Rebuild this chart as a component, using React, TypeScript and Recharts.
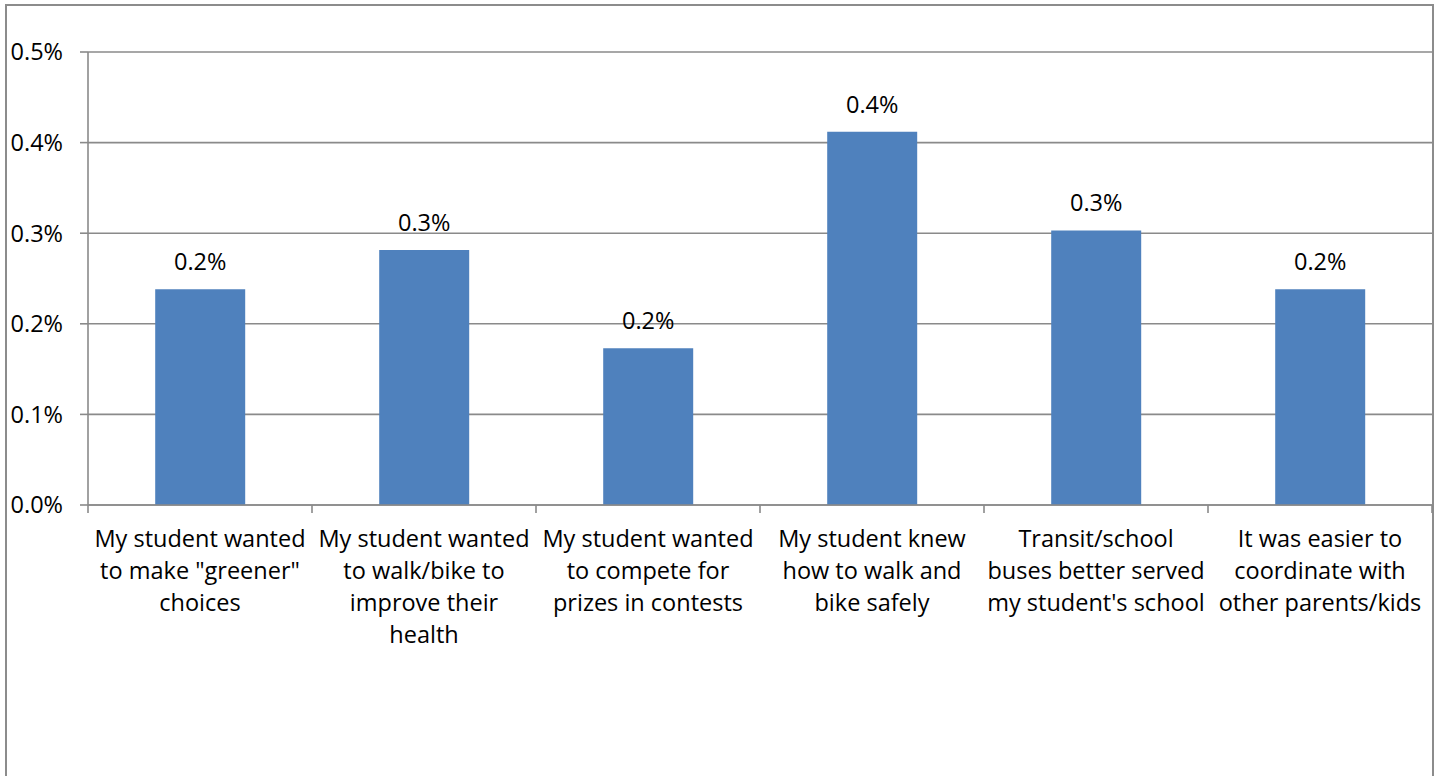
import React from "react";
import { BarChart, Bar, XAxis, YAxis, CartesianGrid, LabelList } from "recharts";

const categories: string[] = [
  "My student wanted\nto make \"greener\"\nchoices",
  "My student wanted\nto walk/bike to\nimprove their\nhealth",
  "My student wanted\nto compete for\nprizes in contests",
  "My student knew\nhow to walk and\nbike safely",
  "Transit/school\nbuses better served\nmy student's school",
  "It was easier to\ncoordinate with\nother parents/kids",
];

const values: number[] = [0.238, 0.2815, 0.173, 0.412, 0.303, 0.238];

const yTicks: number[] = [0, 0.1, 0.2, 0.3, 0.4, 0.5];

const data = categories.map((c, i) => ({ name: c, value: values[i] }));

const W = 1440;
const H = 776;
const MARGIN = { top: 52, right: 8, left: 0, bottom: 121 };
const Y_AXIS_W = 88;
const X_AXIS_H = 150;
const BAND = (W - MARGIN.left - MARGIN.right - Y_AXIS_W) / categories.length;

const FONT = "'Open Sans', sans-serif";
const FS = 23.5;
const LINE_COLOR = "#8a8a8a";
const TEXT_COLOR = "#000000";

const fmt = (v: number) => `${v.toFixed(1)}%`;

const CategoryTick = (props: any) => {
  const { x, y, payload, index } = props;
  const lines = String(payload.value).split("\n");
  const half = BAND / 2;
  return (
    <g>
      <line x1={x - half} x2={x - half} y1={y} y2={y + 8} stroke={LINE_COLOR} strokeWidth={1.6} />
      {index === categories.length - 1 && (
        <line x1={x + half} x2={x + half} y1={y} y2={y + 8} stroke={LINE_COLOR} strokeWidth={1.6} />
      )}
      <text
        x={x}
        y={y + 42}
        textAnchor="middle"
        fill={TEXT_COLOR}
        fontFamily={FONT}
        fontSize={FS}
      >
        {lines.map((l, i) => (
          <tspan key={i} x={x} dy={i === 0 ? 0 : 32}>
            {l}
          </tspan>
        ))}
      </text>
    </g>
  );
};

export default function App() {
  return (
    <div
      style={{
        position: "absolute",
        left: 0,
        top: 0,
        width: W,
        height: H,
        overflow: "hidden",
        background: "#ffffff",
      }}
    >
      <div
        style={{
          position: "absolute",
          left: 5,
          top: 4,
          width: 1429,
          height: 820,
          border: "2px solid #8c8c8c",
          boxSizing: "border-box",
        }}
      />
      <div style={{ position: "absolute", left: 0, top: 0 }}>
        <BarChart
          width={W}
          height={H}
          data={data}
          margin={MARGIN}
          barCategoryGap="30%"
          style={{ fontFamily: FONT }}
        >
          <CartesianGrid vertical={false} stroke={LINE_COLOR} strokeWidth={1.6} />
          <XAxis
            dataKey="name"
            interval={0}
            height={X_AXIS_H}
            tickLine={false}
            tickSize={0}
            tickMargin={0}
            axisLine={{ stroke: LINE_COLOR, strokeWidth: 1.6 }}
            tick={<CategoryTick />}
          />
          <YAxis
            type="number"
            domain={[0, 0.5]}
            ticks={yTicks}
            interval={0}
            width={Y_AXIS_W}
            tickSize={8}
            tickMargin={17}
            tickFormatter={fmt}
            axisLine={{ stroke: LINE_COLOR, strokeWidth: 1.6 }}
            tickLine={{ stroke: LINE_COLOR, strokeWidth: 1.6 }}
            tick={{ fill: TEXT_COLOR, fontSize: FS, fontFamily: FONT }}
          />
          <Bar dataKey="value" fill="#4f81bd" isAnimationActive={false}>
            <LabelList
              dataKey="value"
              position="top"
              offset={19}
              formatter={(v: any) => fmt(Number(v))}
              style={{ fill: TEXT_COLOR, fontSize: FS, fontFamily: FONT }}
            />
          </Bar>
        </BarChart>
      </div>
    </div>
  );
}
